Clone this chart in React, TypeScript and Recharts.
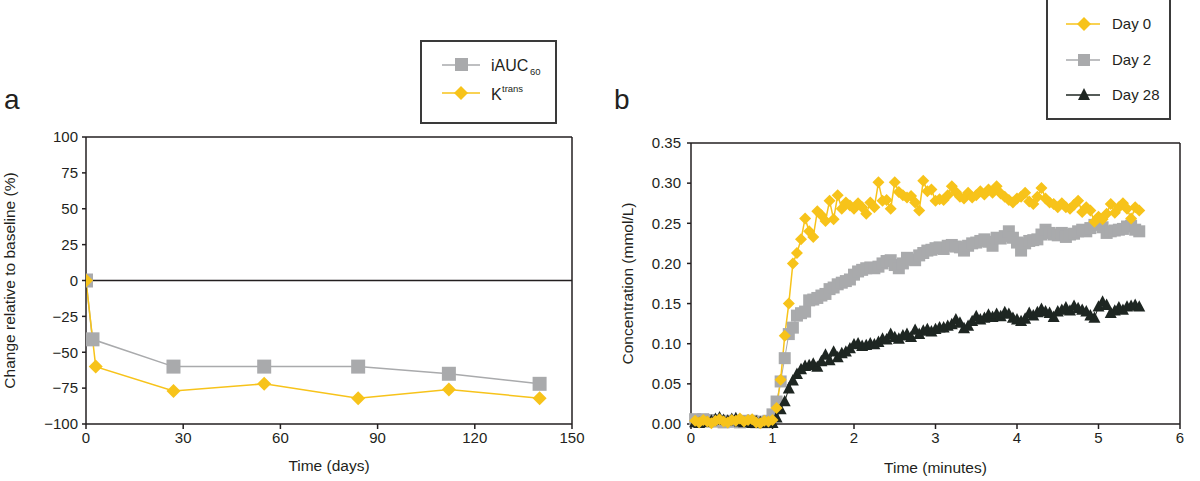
import React from "react";
import { LineChart, Line, XAxis, YAxis, ReferenceLine } from "recharts";

// ---------- Panel a ----------
const iaucDays = [0, 2, 27, 55, 84, 112, 140];
const iaucValues = [0, -41, -60, -60, -60, -65, -72];
const ktransDays = [0, 3, 27, 55, 84, 112, 140];
const ktransValues = [0, -60, -77, -72, -82, -76, -82];
const aXTicks = [0, 30, 60, 90, 120, 150];
const aYTicks = [-100, -75, -50, -25, 0, 25, 50, 75, 100];

// ---------- Panel b ----------
const times = [
  0.05, 0.1, 0.15, 0.2, 0.25, 0.3, 0.35, 0.4, 0.45, 0.5,
  0.55, 0.6, 0.65, 0.7, 0.75, 0.8, 0.85, 0.9, 0.95, 1.0,
  1.05, 1.1, 1.15, 1.2, 1.25, 1.3, 1.35, 1.4, 1.45, 1.5,
  1.55, 1.6, 1.65, 1.7, 1.75, 1.8, 1.85, 1.9, 1.95, 2.0,
  2.05, 2.1, 2.15, 2.2, 2.25, 2.3, 2.35, 2.4, 2.45, 2.5,
  2.55, 2.6, 2.65, 2.7, 2.75, 2.8, 2.85, 2.9, 2.95, 3.0,
  3.05, 3.1, 3.15, 3.2, 3.25, 3.3, 3.35, 3.4, 3.45, 3.5,
  3.55, 3.6, 3.65, 3.7, 3.75, 3.8, 3.85, 3.9, 3.95, 4.0,
  4.05, 4.1, 4.15, 4.2, 4.25, 4.3, 4.35, 4.4, 4.45, 4.5,
  4.55, 4.6, 4.65, 4.7, 4.75, 4.8, 4.85, 4.9, 4.95, 5.0,
  5.05, 5.1, 5.15, 5.2, 5.25, 5.3, 5.35, 5.4, 5.45, 5.5,
];
const day0 = [
  0.004, 0.002, 0.005, 0.003, 0.001, 0.004, 0.006, 0.003, 0.002, 0.005,
  0.004, 0.007, 0.003, 0.005, 0.006, 0.002, 0.001, 0.004, 0.003, 0.005,
  0.02, 0.055, 0.11, 0.15, 0.2, 0.213, 0.23, 0.256, 0.24, 0.233,
  0.265, 0.26, 0.253, 0.278, 0.255, 0.285, 0.268, 0.276, 0.272, 0.268,
  0.275, 0.27, 0.262, 0.276, 0.27, 0.301, 0.278, 0.279, 0.268, 0.301,
  0.289, 0.285, 0.282, 0.284, 0.276, 0.266, 0.303, 0.29, 0.292, 0.278,
  0.28, 0.279, 0.285, 0.296, 0.289, 0.283, 0.281, 0.288, 0.282, 0.285,
  0.29, 0.286, 0.292, 0.288, 0.296, 0.287, 0.283, 0.279, 0.276, 0.281,
  0.283, 0.288, 0.277, 0.274, 0.283, 0.294, 0.281, 0.276, 0.274, 0.27,
  0.275, 0.27, 0.268, 0.273, 0.278, 0.264, 0.27, 0.266, 0.252, 0.258,
  0.255, 0.262, 0.274, 0.263, 0.27, 0.275, 0.268, 0.256, 0.27, 0.266,
];
const day2 = [
  0.006, 0.005, 0.006, 0.004, 0.005, 0.003, 0.004, 0.002, 0.003, 0.004,
  0.003, 0.002, 0.004, 0.003, 0.004, 0.002, 0.003, 0.002, 0.004, 0.012,
  0.028, 0.053, 0.082, 0.112, 0.12, 0.135, 0.138, 0.14, 0.154, 0.155,
  0.157, 0.16, 0.162, 0.168, 0.17, 0.174, 0.176, 0.178, 0.18, 0.186,
  0.19, 0.192, 0.194, 0.195, 0.194, 0.196, 0.2, 0.203, 0.204, 0.198,
  0.194, 0.2, 0.207, 0.205, 0.204, 0.21, 0.213, 0.216, 0.217, 0.219,
  0.22, 0.218, 0.222, 0.223, 0.221, 0.22, 0.216, 0.222, 0.225, 0.226,
  0.228, 0.23, 0.227, 0.222, 0.232, 0.231, 0.234, 0.24, 0.232, 0.226,
  0.216, 0.225, 0.228, 0.229, 0.23, 0.236, 0.242, 0.238, 0.236, 0.235,
  0.238, 0.233, 0.236, 0.237, 0.24, 0.242, 0.24, 0.244, 0.248, 0.249,
  0.245, 0.238, 0.24, 0.241, 0.242, 0.243, 0.246, 0.247, 0.242, 0.24,
];
const day28 = [
  0.002, 0.001, 0.003, 0.002, 0.004, 0.006, 0.008, 0.005, 0.004, 0.006,
  0.007, 0.003, 0.002, 0.004, 0.001, 0.003, 0.002, 0.001, 0.002, 0.001,
  0.008, 0.018, 0.028, 0.044, 0.054, 0.062, 0.068, 0.072, 0.073, 0.075,
  0.071, 0.078, 0.086, 0.079, 0.09, 0.083, 0.088, 0.09, 0.094, 0.099,
  0.1, 0.097, 0.098, 0.1, 0.099, 0.102, 0.106, 0.105, 0.112, 0.108,
  0.106, 0.11, 0.112, 0.108, 0.117, 0.112, 0.116, 0.118, 0.115, 0.118,
  0.12, 0.12, 0.122, 0.124, 0.13, 0.126, 0.119, 0.122, 0.128, 0.134,
  0.13, 0.132, 0.136, 0.133, 0.137, 0.134, 0.139, 0.137, 0.132, 0.13,
  0.128, 0.131, 0.138, 0.135, 0.139, 0.143, 0.14, 0.138, 0.133, 0.14,
  0.142, 0.145, 0.141, 0.147, 0.144, 0.142, 0.14, 0.135, 0.132, 0.146,
  0.152, 0.148, 0.138, 0.141, 0.145, 0.142, 0.146, 0.147, 0.148, 0.146,
];
const bXTicks = [0, 1, 2, 3, 4, 5, 6];
const bYTicks = [0, 0.05, 0.1, 0.15, 0.2, 0.25, 0.3, 0.35];

const YELLOW = "#F7C31A";
const GRAY = "#A9AAAC";
const BLACK = "#1E2622";
const AXIS = "#231F20";
const FONT = "'Liberation Sans', Arial, sans-serif";

const aIauc = iaucDays.map((d, i) => ({ x: d, y: iaucValues[i] }));
const aKtrans = ktransDays.map((d, i) => ({ x: d, y: ktransValues[i] }));
const bData = times.map((t, i) => ({ t, d0: day0[i], d2: day2[i], d28: day28[i] }));

const minus = (v: number) => String(v).replace("-", "\u2212");

const squareDot = (s: number, fill: string) => (p: any) => {
  const { cx, cy, index } = p;
  if (cx == null || cy == null) return <g key={"s" + index} />;
  return <rect key={"s" + index} x={cx - s / 2} y={cy - s / 2} width={s} height={s} fill={fill} />;
};
const diamondDot = (s: number, fill: string) => (p: any) => {
  const { cx, cy, index } = p;
  if (cx == null || cy == null) return <g key={"d" + index} />;
  const h = s / 2;
  return (
    <polygon
      key={"d" + index}
      points={`${cx},${cy - h} ${cx + h},${cy} ${cx},${cy + h} ${cx - h},${cy}`}
      fill={fill}
    />
  );
};
const triangleDot = (s: number, fill: string) => (p: any) => {
  const { cx, cy, index } = p;
  if (cx == null || cy == null) return <g key={"t" + index} />;
  const h = s / 2;
  return (
    <polygon
      key={"t" + index}
      points={`${cx},${cy - h * 1.1} ${cx + h},${cy + h * 0.8} ${cx - h},${cy + h * 0.8}`}
      fill={fill}
    />
  );
};

const tickStyle = { fontSize: 15, fill: AXIS, fontFamily: FONT };
const labelStyle = { fontSize: 15.5, fill: AXIS, fontFamily: FONT };

function LegendA() {
  return (
    <div style={{ position: "absolute", left: 420, top: 40, width: 133, height: 80, border: `2px solid #3a3a3a`, background: "#fff" }}>
      <svg width={133} height={80} style={{ position: "absolute", left: 0, top: 0 }}>
        <line x1={20} x2={58} y1={23} y2={23} stroke={GRAY} strokeWidth={1.5} />
        <rect x={33} y={16} width={13} height={13} fill={GRAY} />
        <text x={69} y={29} fontSize={16} fontFamily={FONT} fill={AXIS}>iAUC</text>
        <text x={108} y={33} fontSize={9.5} fontFamily={FONT} fill={AXIS}>60</text>
        <line x1={20} x2={58} y1={51} y2={51} stroke={YELLOW} strokeWidth={1.5} />
        <polygon points="39,44 46,51 39,58 32,51" fill={YELLOW} />
        <text x={69} y={58} fontSize={16} fontFamily={FONT} fill={AXIS}>K</text>
        <text x={80} y={50} fontSize={9.5} fontFamily={FONT} fill={AXIS}>trans</text>
      </svg>
    </div>
  );
}

function LegendB() {
  const rows = [
    { label: "Day 0", y: 24, kind: "d", c: YELLOW },
    { label: "Day 2", y: 60, kind: "s", c: GRAY },
    { label: "Day 28", y: 95, kind: "t", c: BLACK },
  ];
  return (
    <div style={{ position: "absolute", left: 1046, top: -2, width: 121, height: 118, border: `2px solid #3a3a3a`, background: "#fff" }}>
      <svg width={121} height={118} style={{ position: "absolute", left: 0, top: 0 }}>
        {rows.map((r) => (
          <g key={r.label}>
            <line x1={18} x2={52} y1={r.y} y2={r.y} stroke={r.kind === "t" ? BLACK : r.c} strokeWidth={1.5} />
            {r.kind === "d" && <polygon points={`36,${r.y - 7} 43,${r.y} 36,${r.y + 7} 29,${r.y}`} fill={r.c} />}
            {r.kind === "s" && <rect x={30} y={r.y - 6} width={12} height={12} fill={r.c} />}
            {r.kind === "t" && <polygon points={`36,${r.y - 7} 42,${r.y + 5} 30,${r.y + 5}`} fill={r.c} />}
            <text x={64} y={r.y + 5} fontSize={15} fontFamily={FONT} fill={AXIS}>{r.label}</text>
          </g>
        ))}
      </svg>
    </div>
  );
}

export default function App() {
  return (
    <div style={{ position: "absolute", left: 0, top: 0, width: 1200, height: 481, background: "#fff", fontFamily: FONT, overflow: "hidden" }}>
      <div style={{ position: "absolute", left: 0, top: 0 }}>
        <LineChart width={600} height={481} margin={{ top: 137, right: 28, bottom: 0, left: 0 }}>
          <XAxis
            type="number"
            dataKey="x"
            domain={[0, 150]}
            ticks={aXTicks}
            height={57}
            stroke={AXIS}
            strokeWidth={1.5}
            tickSize={5}
            tickMargin={3}
            tick={tickStyle}
            allowDataOverflow
            label={{ value: "Time (days)", position: "insideBottom", offset: 10, style: labelStyle }}
          />
          <YAxis
            type="number"
            dataKey="y"
            domain={[-100, 100]}
            ticks={aYTicks}
            width={86}
            stroke={AXIS}
            strokeWidth={1.5}
            tickSize={4}
            tickMargin={4}
            tick={tickStyle}
            tickFormatter={minus}
            label={{ value: "Change relative to baseline (%)", angle: -90, position: "insideLeft", offset: 9, style: { ...labelStyle, textAnchor: "middle" } }}
          />
          <ReferenceLine y={100} stroke={AXIS} strokeWidth={1.5} />
          <ReferenceLine x={150} stroke={AXIS} strokeWidth={1.5} />
          <ReferenceLine y={0} stroke={AXIS} strokeWidth={1.5} />
          <Line data={aIauc} dataKey="y" stroke={GRAY} strokeWidth={1.5} dot={squareDot(14, GRAY)} isAnimationActive={false} />
          <Line data={aKtrans} dataKey="y" stroke={YELLOW} strokeWidth={1.5} dot={diamondDot(14, YELLOW)} isAnimationActive={false} />
        </LineChart>
      </div>
      <div style={{ position: "absolute", left: 600, top: 0 }}>
        <LineChart width={600} height={481} data={bData} margin={{ top: 143, right: 20, bottom: 0, left: 0 }}>
          <XAxis
            type="number"
            dataKey="t"
            domain={[0, 6]}
            ticks={bXTicks}
            height={57}
            stroke={AXIS}
            strokeWidth={1.5}
            tickSize={5}
            tickMargin={3}
            tick={tickStyle}
            label={{ value: "Time (minutes)", position: "insideBottom", offset: 8, style: labelStyle }}
          />
          <YAxis
            type="number"
            domain={[0, 0.35]}
            ticks={bYTicks}
            width={91}
            stroke={AXIS}
            strokeWidth={1.5}
            tickSize={4}
            tickMargin={6}
            tick={tickStyle}
            tickFormatter={(v: number) => v.toFixed(2)}
            label={{ value: "Concentration (mmol/L)", angle: -90, position: "insideLeft", offset: 27, style: { ...labelStyle, textAnchor: "middle" } }}
          />
          <ReferenceLine y={0.35} stroke={AXIS} strokeWidth={1.5} />
          <ReferenceLine x={6} stroke={AXIS} strokeWidth={1.5} />
          <Line dataKey="d2" stroke={GRAY} strokeWidth={1} dot={squareDot(12, GRAY)} isAnimationActive={false} />
          <Line dataKey="d28" stroke={BLACK} strokeWidth={1} dot={triangleDot(12, BLACK)} isAnimationActive={false} />
          <Line dataKey="d0" stroke={YELLOW} strokeWidth={1.5} dot={diamondDot(12, YELLOW)} isAnimationActive={false} />
        </LineChart>
      </div>
      <div style={{ position: "absolute", left: 4, top: 84, fontSize: 28, color: AXIS, fontFamily: FONT }}>a</div>
      <div style={{ position: "absolute", left: 614, top: 84, fontSize: 28, color: AXIS, fontFamily: FONT }}>b</div>
      <LegendA />
      <LegendB />
    </div>
  );
}
